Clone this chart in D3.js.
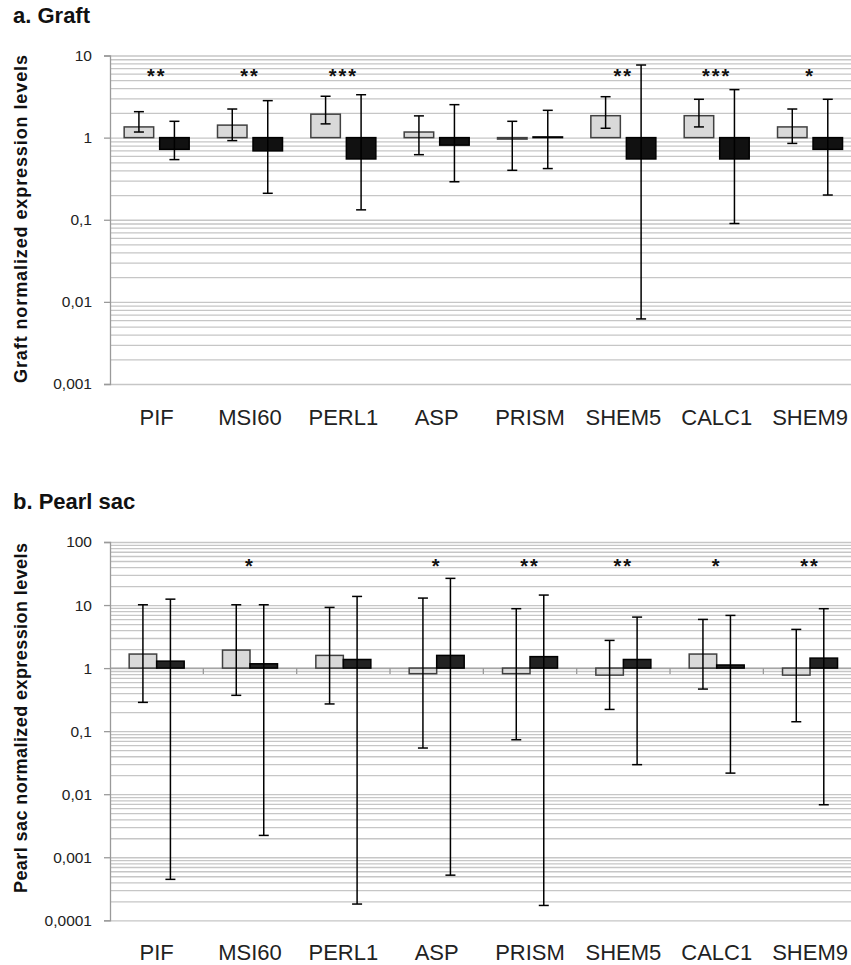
<!DOCTYPE html>
<html>
<head>
<meta charset="utf-8">
<script src="https://cdn.jsdelivr.net/npm/d3@7"></script>
<style>
html,body{margin:0;padding:0;background:#fff;}
svg{display:block;}
</style>
</head>
<body>
<svg id="chart" width="851" height="965"></svg>
<script>
// ---------- data ----------
const categories = ["PIF","MSI60","PERL1","ASP","PRISM","SHEM5","CALC1","SHEM9"];

// a. Graft
const graftLight     = [1.35, 1.42, 1.93, 1.17, 0.96, 1.85, 1.85, 1.35];
const graftLightLow  = [1.17, 0.92, 1.47, 0.62, 0.40, 1.30, 1.35, 0.85];
const graftLightHigh = [2.07, 2.23, 3.19, 1.84, 1.58, 3.15, 2.93, 2.23];
const graftDark      = [0.72, 0.69, 0.55, 0.81, 1.02, 0.55, 0.55, 0.72];
const graftDarkLow   = [0.54, 0.21, 0.132, 0.29, 0.42, 0.0062, 0.09, 0.20];
const graftDarkHigh  = [1.58, 2.82, 3.33, 2.52, 2.15, 7.66, 3.84, 2.93];
const graftStars     = ["**","**","***","","","**","***","*"];
const graftTicks      = [10, 1, 0.1, 0.01, 0.001];
const graftTickLabels = ["10","1","0,1","0,01","0,001"];

// b. Pearl sac
const pearlLight     = [1.67, 1.93, 1.59, 0.815, 0.815, 0.774, 1.67, 0.774];
const pearlLightLow  = [0.286, 0.37, 0.27, 0.054, 0.073, 0.221, 0.465, 0.141];
const pearlLightHigh = [10.1, 10.1, 9.18, 12.9, 8.75, 2.75, 5.92, 4.11];
const pearlDark      = [1.29, 1.17, 1.37, 1.59, 1.52, 1.37, 1.12, 1.44];
const pearlDarkLow   = [0.000446, 0.00222, 0.000181, 0.00052, 0.000172, 0.0294, 0.0216, 0.0068];
const pearlDarkHigh  = [12.4, 10.1, 13.7, 26.5, 14.4, 6.44, 6.85, 8.75];
const pearlStars     = ["","*","","*","**","**","*","**"];
const pearlTicks      = [100, 10, 1, 0.1, 0.01, 0.001, 0.0001];
const pearlTickLabels = ["100","10","1","0,1","0,01","0,001","0,0001"];

// ---------- drawing ----------
const svg = d3.select("#chart");
const FONT = "'Liberation Sans', Arial, sans-serif";

function panel(cfg) {
  const g = svg.append("g");
  const x0 = d3.scaleBand().domain(categories).range([cfg.left, cfg.right]).paddingInner(0).paddingOuter(0);
  const x1 = d3.scaleBand().domain(["light","dark"]).range([0, x0.bandwidth()])
    .paddingInner(cfg.pi).paddingOuter(cfg.po);
  const y = d3.scaleLog().domain(cfg.domain).range([cfg.bottom, cfg.top]);

  // gridlines (major + minor)
  const [lo, hi] = cfg.domain;
  const gridVals = [];
  for (let e = Math.round(Math.log10(lo)); e < Math.round(Math.log10(hi)); e++) {
    for (let k = 1; k <= 9; k++) gridVals.push(k * Math.pow(10, e));
  }
  gridVals.push(hi);
  const grid = g.append("g").attr("transform", `translate(${cfg.left},0)`)
    .call(d3.axisLeft(y).tickValues(gridVals).tickSize(-(cfg.right - cfg.left)).tickFormat(""));
  grid.select(".domain").remove();
  grid.selectAll("line").attr("stroke", "#c6c6c6").attr("stroke-width", 1.3);

  // y axis
  const yAxis = g.append("g").attr("transform", `translate(${cfg.left},0)`)
    .call(d3.axisLeft(y).tickValues(cfg.ticks).tickSize(6).tickPadding(12)
      .tickFormat((d, i) => cfg.tickLabels[cfg.ticks.indexOf(d)]));
  yAxis.select(".domain").attr("stroke", "#9a9a9a").attr("stroke-width", 1.3);
  yAxis.selectAll("line").attr("stroke", "#9a9a9a").attr("stroke-width", 1.3);
  yAxis.selectAll("text").attr("font-family", FONT).attr("font-size", 15.5).attr("fill", "#222");

  // category axis line at 1 (pearl sac has tick marks)
  if (cfg.catTicks) {
    g.append("line").attr("x1", cfg.left).attr("x2", cfg.right)
      .attr("y1", y(1)).attr("y2", y(1)).attr("stroke", "#9a9a9a").attr("stroke-width", 1.3);
    g.selectAll(".ctick").data(categories.slice(1)).join("line")
      .attr("x1", d => x0(d)).attr("x2", d => x0(d))
      .attr("y1", y(1)).attr("y2", y(1) + 6)
      .attr("stroke", "#9a9a9a").attr("stroke-width", 1.3);
  }

  const rows = categories.map((c, i) => ([
    {c, s: "light", v: cfg.light[i], lo: cfg.lightLow[i], hi: cfg.lightHigh[i]},
    {c, s: "dark",  v: cfg.dark[i],  lo: cfg.darkLow[i],  hi: cfg.darkHigh[i]}
  ])).flat();

  // bars from 1
  g.selectAll(".bar").data(rows).join("rect")
    .attr("x", d => x0(d.c) + x1(d.s))
    .attr("width", x1.bandwidth())
    .attr("y", d => Math.min(y(d.v), y(1)))
    .attr("height", d => Math.abs(y(d.v) - y(1)))
    .attr("fill", d => d.s === "light" ? "#d9d9d9" : cfg.darkFill)
    .attr("stroke", d => d.s === "light" ? "#404040" : "#000")
    .attr("stroke-width", 1.5);

  // error bars
  const cap = 5;
  const eb = g.selectAll(".eb").data(rows).join("g")
    .attr("transform", d => `translate(${x0(d.c) + x1(d.s) + x1.bandwidth() / 2},0)`);
  eb.append("line").attr("y1", d => y(d.lo)).attr("y2", d => y(d.hi))
    .attr("stroke", "#000").attr("stroke-width", 1.5);
  eb.append("line").attr("x1", -cap).attr("x2", cap).attr("y1", d => y(d.lo)).attr("y2", d => y(d.lo))
    .attr("stroke", "#000").attr("stroke-width", 1.5);
  eb.append("line").attr("x1", -cap).attr("x2", cap).attr("y1", d => y(d.hi)).attr("y2", d => y(d.hi))
    .attr("stroke", "#000").attr("stroke-width", 1.5);

  // significance stars
  g.selectAll(".star").data(categories).join("text")
    .attr("x", d => x0(d) + x0.bandwidth() / 2)
    .attr("y", cfg.starY)
    .attr("text-anchor", "middle")
    .attr("font-family", FONT).attr("font-weight", "bold").attr("font-size", 20)
    .attr("letter-spacing", 2)
    .attr("fill", "#111")
    .text((d, i) => cfg.stars[i]);

  // category labels
  const xAxis = g.append("g").attr("transform", `translate(0,${cfg.labelY})`)
    .call(d3.axisBottom(x0).tickSize(0).tickPadding(0));
  xAxis.select(".domain").remove();
  xAxis.selectAll("text").attr("font-family", FONT).attr("font-size", 22).attr("fill", "#222")
    .attr("dy", 0).attr("y", 0);

  // y title
  g.append("text")
    .attr("transform", `translate(${cfg.yTitleX},${cfg.yTitleY}) rotate(-90)`)
    .attr("text-anchor", "middle")
    .attr("font-family", FONT).attr("font-weight", "bold").attr("font-size", 18)
    .attr("textLength", cfg.yTitleLen).attr("lengthAdjust", "spacing")
    .attr("fill", "#111")
    .text(cfg.yTitle);

  // panel title
  g.append("text").attr("x", 13).attr("y", cfg.titleY)
    .attr("font-family", FONT).attr("font-weight", "bold").attr("font-size", 22)
    .attr("fill", "#111")
    .text(cfg.title);
}

panel({
  title: "a. Graft", titleY: 23,
  yTitle: "Graft  normalized expression levels", yTitleX: 27, yTitleY: 219, yTitleLen: 328,
  left: 110, right: 856.7, top: 55.5, bottom: 384,
  domain: [0.001, 10], ticks: graftTicks, tickLabels: graftTickLabels,
  pi: 0.169, po: 0.399, darkFill: "#111111",
  light: graftLight, lightLow: graftLightLow, lightHigh: graftLightHigh,
  dark: graftDark, darkLow: graftDarkLow, darkHigh: graftDarkHigh,
  stars: graftStars, starY: 83, labelY: 425, catTicks: false
});

panel({
  title: "b. Pearl sac", titleY: 509,
  yTitle: "Pearl sac normalized expression levels", yTitleX: 27, yTitleY: 718, yTitleLen: 350,
  left: 110, right: 856.7, top: 542, bottom: 920.3,
  domain: [0.0001, 100], ticks: pearlTicks, tickLabels: pearlTickLabels,
  pi: 0, po: 0.697, darkFill: "#222222",
  light: pearlLight, lightLow: pearlLightLow, lightHigh: pearlLightHigh,
  dark: pearlDark, darkLow: pearlDarkLow, darkHigh: pearlDarkHigh,
  stars: pearlStars, starY: 573, labelY: 960, catTicks: true
});
</script>
</body>
</html>
